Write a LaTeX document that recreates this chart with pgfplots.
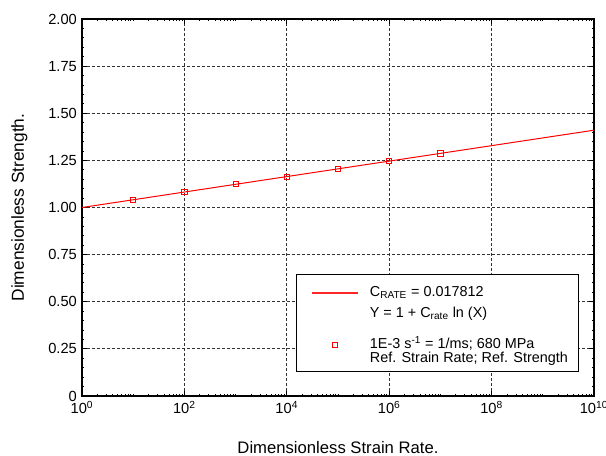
\documentclass[border=0pt]{standalone}
\usepackage{pgfplots}
\pgfplotsset{compat=1.18}
\usepackage{fontspec}
\setmainfont{Liberation Sans}
\pgfplotsset{
  legline/.style={legend image code/.code={\path (-3.75pt,0pt); \fill[red!85] (0pt,-0.33pt) rectangle (34pt,0.33pt); \path (43pt,0pt);}},
  legmark/.style={legend image code/.code={\path (-3.75pt,0pt); \draw[##1] plot coordinates {(17pt,0pt)}; \path (0pt,0pt) (43pt,0pt);}},
}
\newcommand{\hs}[2]{\rule{0pt}{#1}\rule[-#2]{0pt}{#2}}
\begin{document}
\fontsize{11}{13}\selectfont
\begin{tikzpicture}
\begin{axis}[
  scale only axis, width=384pt, height=282.75pt,
  xmode=log, xmin=1, xmax=1e10, ymin=0, ymax=2,
  xtick={1,1e2,1e4,1e6,1e8,1e10},
  xticklabels={10\textsuperscript{0},10\textsuperscript{2},10\textsuperscript{4},10\textsuperscript{6},10\textsuperscript{8},10\textsuperscript{10}},
  minor xtick={2,3,4,5,6,7,8,9,10,20,30,40,50,60,70,80,90,
    200,300,400,500,600,700,800,900,1e3,2e3,3e3,4e3,5e3,6e3,7e3,8e3,9e3,
    2e4,3e4,4e4,5e4,6e4,7e4,8e4,9e4,1e5,2e5,3e5,4e5,5e5,6e5,7e5,8e5,9e5,
    2e6,3e6,4e6,5e6,6e6,7e6,8e6,9e6,1e7,2e7,3e7,4e7,5e7,6e7,7e7,8e7,9e7,
    2e8,3e8,4e8,5e8,6e8,7e8,8e8,9e8,1e9,2e9,3e9,4e9,5e9,6e9,7e9,8e9,9e9},
  ytick={0,0.25,0.5,0.75,1,1.25,1.5,1.75,2},
  yticklabels={0,0.25,0.50,0.75,1.00,1.25,1.50,1.75,2.00},
  minor y tick num=4,
  /pgf/number format/assume math mode=true,
  tick align=inside,
  major tick length=3.5pt, minor tick length=1.8pt,
  every tick/.style={black, line width=0.6pt},
  grid=major,
  major grid style={black!80, line width=0.6pt, dash pattern=on 2.25pt off 1.5pt},
  axis line style={line width=0.9pt},
  tick label style={font=\fontsize{11}{13}\selectfont},
  xlabel={Dimensionless Strain Rate.},
  ylabel={Dimensionless Strength.},
  xlabel style={at={([yshift=-43.5pt]axis description cs:0.5,0)}, anchor=base, font=\fontsize{12.5}{14}\selectfont},
  ylabel style={at={([xshift=-43.5pt]axis description cs:0,0.5)}, anchor=base, font=\fontsize{13}{15}\selectfont},
  legend style={at={(0.969,0.064)}, anchor=south east,
    font=\fontsize{10.8}{10.5}\selectfont, inner xsep=7.5pt, inner ysep=4pt, row sep=0pt, column sep=0pt,
    nodes={inner sep=0pt, text height=, text depth=}},
  legend cell align=left,
]
\addplot[red, line width=0.75pt, no markers, legline]
  coordinates {(1,1) (1e10,1.410135)};
\addlegendentry{\hs{12.5pt}{7.75pt}C\textsubscript{RATE} = 0.017812}
\addlegendimage{empty legend}
\addlegendentry{\hs{8pt}{14.5pt}Y = 1 + C\textsubscript{rate} ln (X)}
\addplot[red, only marks, mark=square, mark size=1.9pt, mark options={line width=0.6pt}, legmark]
  coordinates {(1e1,1.0410) (1e2,1.0820) (1e3,1.1231) (1e4,1.1641) (1e5,1.2051) (1e6,1.2461) (1e7,1.2871)};
\addlegendentry{\hs{8pt}{2.5pt}1E-3 s\textsuperscript{-1} = 1/ms; 680 MPa}
\addlegendimage{empty legend}
\addlegendentry{\hs{8pt}{2.5pt}Ref. Strain Rate; Ref. Strength}
\end{axis}
\pgfresetboundingbox
\path ([shift={(-61.5pt,-45pt)}]current axis.south west) rectangle ([shift={(9pt,14.25pt)}]current axis.north east);
\end{tikzpicture}
\end{document}
